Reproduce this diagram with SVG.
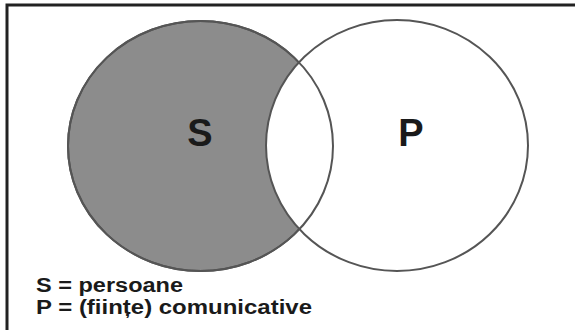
<svg xmlns="http://www.w3.org/2000/svg" width="575" height="330" viewBox="0 0 575 330">
<style>
.frame{fill:none;stroke:#222;stroke-width:3}
.ring{stroke:#555;stroke-width:2}
.big{font-family:"Liberation Sans",Arial,sans-serif;font-weight:bold;font-size:38px;fill:#1a1a1a;text-anchor:middle}
.leg{font-family:"Liberation Sans",Arial,sans-serif;font-weight:bold;font-size:20px;fill:#1a1a1a}
</style>
<rect class="frame" x="7" y="5" width="620" height="400"/>
<g id="S">
<ellipse cx="200.5" cy="146" rx="132.5" ry="125" fill="#8c8c8c" class="ring"/>
</g>
<g id="P">
<ellipse cx="397" cy="145.5" rx="131" ry="125.5" fill="#fff" class="ring"/>
<ellipse cx="200.5" cy="146" rx="132.5" ry="125" fill="none" class="ring"/>
</g>
<text class="big" x="200" y="146">S</text>
<text class="big" x="411" y="146">P</text>
<text class="leg" x="36" y="292" textLength="147" lengthAdjust="spacingAndGlyphs">S = persoane</text>
<text class="leg" x="36" y="314" textLength="276" lengthAdjust="spacingAndGlyphs">P = (ființe) comunicative</text>
</svg>
